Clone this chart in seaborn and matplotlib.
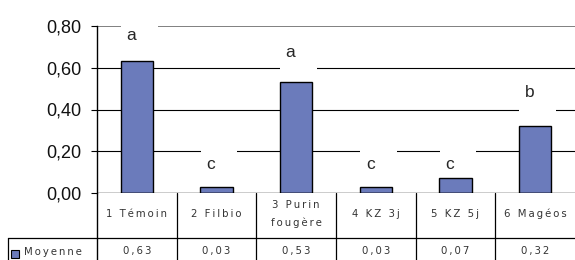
import matplotlib
matplotlib.use("Agg")
import matplotlib.pyplot as plt
import seaborn as sns
import pandas as pd
from matplotlib.patches import Rectangle
from matplotlib.lines import Line2D
from matplotlib.transforms import blended_transform_factory

categories = ["1 Témoin", "2 Filbio", "3 Purin\nfougère", "4 KZ 3j", "5 KZ 5j", "6 Magéos"]
moyenne = [0.63, 0.03, 0.53, 0.03, 0.07, 0.32]
letters = ["a", "c", "a", "c", "c", "b"]
letter_y = [0.755, 0.135, 0.675, 0.135, 0.135, 0.48]
table_values = ["0,63", "0,03", "0,53", "0,03", "0,07", "0,32"]
yticks = [0.0, 0.2, 0.4, 0.6, 0.8]
ytick_labels = ["0,00", "0,20", "0,40", "0,60", "0,80"]
series_name = "Moyenne"

sns.set_style("white")
plt.rcParams['font.family'] = ['Liberation Sans', 'DejaVu Sans']

W, H = 575, 260
fig = plt.figure(figsize=(5.75, 2.6), dpi=100)


def fx(px):
    return px / W


def fy(py):
    return 1 - py / H


ax = fig.add_axes([fx(97), fy(193), fx(575) - fx(97), fy(26) - fy(193)])
color = "#6b7bbb"
df = pd.DataFrame({"cat": categories, "val": moyenne})
sns.barplot(data=df, x="cat", y="val", ax=ax, color=color, width=0.41,
            edgecolor="black", linewidth=1, saturation=1, zorder=3)

ax.set_xlim(-0.5, len(categories) - 0.5)
ax.set_ylim(0, 0.8)
ax.set_yticks(yticks)
ax.set_yticklabels(ytick_labels, fontsize=13, color="#111111")
ax.set_xticks([])
ax.set_xlabel("")
ax.set_ylabel("")
ax.tick_params(axis="y", length=4.3, width=0.8, color="black", direction="out", pad=7, left=True)
for s in ["top", "right", "bottom"]:
    ax.spines[s].set_visible(False)
ax.spines["left"].set_color("black")
ax.spines["left"].set_linewidth(1)

for t in yticks[1:]:
    c = "#808080" if t == yticks[-1] else "black"
    lw = 1.4 if t == yticks[-1] else 0.8
    ax.axhline(t, color=c, lw=lw, zorder=1)
ax.axhline(0, color="black", lw=1, zorder=5)

for i, (lt, ly) in enumerate(zip(letters, letter_y)):
    lx = i - 0.07
    ax.add_patch(Rectangle((lx + 0.1 - 0.23, ly - 0.1), 0.46, 0.2, facecolor="white",
                           edgecolor="none", zorder=2))
    ax.text(lx, ly, lt, ha="center", va="center", fontsize=12.5, zorder=4)


def spaced(s):
    return "\n".join("\u2009".join(list(line)) for line in s.split("\n"))


# table
tf = fig.transFigure
bt = blended_transform_factory(ax.transData, tf)
lc = "black"
fig.add_artist(Line2D([fx(8), fx(575)], [fy(238), fy(238)], color=lc, lw=0.9, transform=tf))
fig.add_artist(Line2D([fx(8), fx(8)], [fy(238), fy(262)], color=lc, lw=0.9, transform=tf))
fig.add_artist(Line2D([fx(97), fx(97)], [fy(193), fy(262)], color=lc, lw=1, transform=tf))
for k in range(1, len(categories)):
    fig.add_artist(Line2D([k - 0.5, k - 0.5], [fy(193), fy(262)], color=lc, lw=0.9, transform=bt))

tcol = "#333333"
for i, (cat, v) in enumerate(zip(categories, table_values)):
    t1 = fig.text(0, fy(214), spaced(cat), transform=bt, ha="center", va="center",
                  fontsize=7.3, family="DejaVu Sans", color=tcol, linespacing=1.8)
    t2 = fig.text(0, fy(251), spaced(v), transform=bt, ha="center", va="center",
                  fontsize=7.3, family="DejaVu Sans", color=tcol)
    t1.set_x(i)
    t2.set_x(i)

fig.add_artist(Rectangle((fx(11), fy(258)), fx(8), fy(250) - fy(258), facecolor=color,
                         edgecolor="black", lw=0.8, transform=tf))
fig.text(fx(24), fy(252), spaced(series_name), ha="left", va="center", fontsize=7.3,
         family="DejaVu Sans", color=tcol)

fig.savefig("out.png", dpi=100)
